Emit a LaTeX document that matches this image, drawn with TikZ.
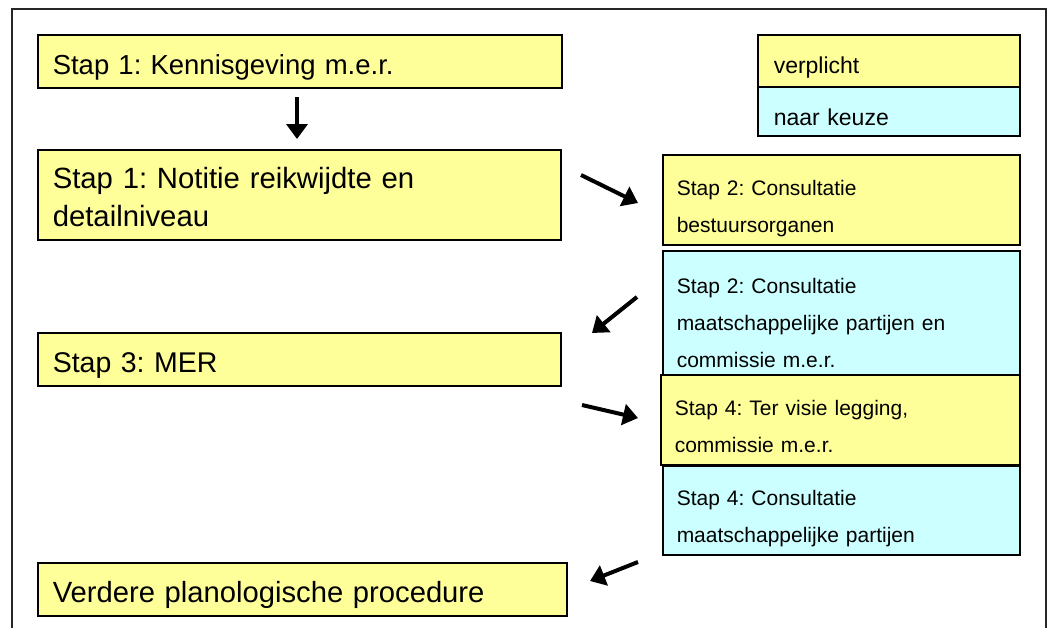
\documentclass[tikz,border=0pt]{standalone}
\usepackage{fontspec}
\setmainfont{Liberation Sans}
\usetikzlibrary{arrows.meta}
\definecolor{yel}{HTML}{FFFF99}
\definecolor{cya}{HTML}{CCFFFF}
\frenchspacing
\begin{document}
\begin{tikzpicture}[x=1pt,y=-1pt,
  box/.style={draw=black, line width=1.5pt, rectangle, inner ysep=0pt, anchor=north west, align=left},
  bigbox/.style={box, fill=yel, inner xsep=15pt, font=\fontsize{28.5}{37}\selectfont, text height=27pt, text depth=0pt},
  smallbox/.style={box, inner xsep=14pt, font=\fontsize{21}{37}\selectfont, text height=0pt},
  legbox/.style={box, inner xsep=16pt, font=\fontsize{23}{28}\selectfont, text depth=0pt},
  arr/.style={line width=4pt, -{Triangle[length=15pt,width=21pt]}}
]
\useasboundingbox (0,0) rectangle (1050,627);
\draw[line width=1.5pt, draw=black!85] (12,640) -- (12,9) -- (1046,9) -- (1046,640);

% left column
\node[bigbox, minimum width=524pt, minimum height=53pt, text width=494pt, font=\fontsize{27.5}{37}\selectfont] (s1a) at (37,34) {Stap 1: Kennisgeving m.e.r.};
\node[bigbox, minimum width=523pt, minimum height=90pt, text width=493pt, text height=0pt, text depth=12pt, font=\fontsize{29.3}{37.5}\selectfont] (s1b) at (37,149) {Stap 1: Notitie reikwijdte en\\detailniveau};
\node[bigbox, minimum width=523pt, minimum height=53pt, text width=493pt] (s3) at (37,332) {Stap 3: MER};
\node[bigbox, minimum width=529pt, minimum height=53pt, text width=499pt, font=\fontsize{29.2}{37}\selectfont] (vp) at (37,562) {Verdere planologische procedure};

% legend
\node[legbox, fill=yel, minimum width=262pt, minimum height=52pt, text width=230pt, text height=26pt] (lv) at (757,34) {verplicht};
\node[legbox, fill=cya, minimum width=262pt, minimum height=49pt, text width=230pt, text height=29pt] (lk) at (757,86) {naar keuze};

% right column
\node[smallbox, fill=yel, minimum width=357pt, minimum height=90pt, text width=329pt, text depth=8pt] (r1) at (662,154) {Stap 2: Consultatie\\bestuursorganen};
\node[smallbox, fill=cya, minimum width=357pt, minimum height=126pt, text width=329pt, text depth=40pt] (r2) at (662,250) {Stap 2: Consultatie\\maatschappelijke partijen en\\commissie m.e.r.};
\node[smallbox, fill=yel, minimum width=359pt, minimum height=90pt, text width=331pt, text depth=8pt] (r3) at (660,374) {Stap 4: Ter visie legging,\\commissie m.e.r.};
\node[smallbox, fill=cya, minimum width=357pt, minimum height=89pt, text width=329pt, text depth=9pt] (r4) at (662,465) {Stap 4: Consultatie\\maatschappelijke partijen};

% arrows
\coordinate (a1s) at (297,97);  \coordinate (a1e) at (297,139);
\coordinate (a2s) at (581,175); \coordinate (a2e) at (638,203);
\coordinate (a3s) at (637,297); \coordinate (a3e) at (592,333);
\coordinate (a4s) at (582,405); \coordinate (a4e) at (638,418);
\coordinate (a5s) at (638,562); \coordinate (a5e) at (590,581);
\draw[arr] (a1s) -- (a1e);
\draw[arr] (a2s) -- (a2e);
\draw[arr] (a3s) -- (a3e);
\draw[arr] (a4s) -- (a4e);
\draw[arr] (a5s) -- (a5e);
\end{tikzpicture}
\end{document}
